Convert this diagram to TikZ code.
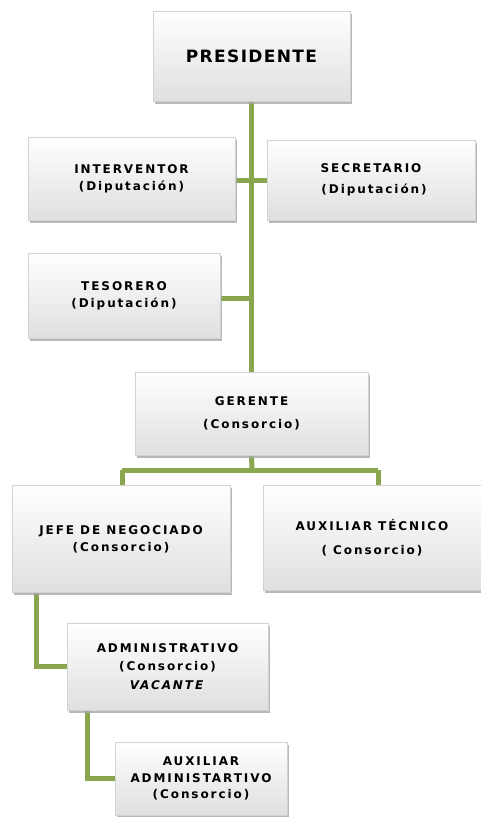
\documentclass[tikz,border=0pt]{standalone}
\usepackage{fontspec}
\setmainfont{DejaVu Sans}[LetterSpace=16]
\usetikzlibrary{shadows,backgrounds}
\definecolor{lineg}{RGB}{138,166,78}
\tikzset{
  box/.style={rectangle, draw=gray!35, line width=0.4pt, top color=white, bottom color=gray!25,
    drop shadow={shadow xshift=2pt, shadow yshift=-2.5pt, fill=gray!70, opacity=0.8},
    align=center, font=\fontsize{12pt}{17pt}\selectfont\bfseries, inner sep=0pt},
  conn/.style={draw=lineg, line width=5pt}
}
\begin{document}
\begin{tikzpicture}[x=1pt,y=-1pt]
\useasboundingbox (0,0) rectangle (481,817);
\node[box, minimum width=197pt, minimum height=90pt, font=\fontsize{17pt}{18pt}\selectfont\bfseries\addfontfeatures{LetterSpace=8}] (pres) at (251.5,56) {PRESIDENTE};
\node[box, minimum width=207pt, minimum height=83pt] (interv) at (131.5,178.5) {INTERVENTOR\\(Diputación)};
\node[box, minimum width=208pt, minimum height=80pt, font=\fontsize{12pt}{21pt}\selectfont\bfseries] (secr) at (371,180) {SECRETARIO\\\ (Diputación)};
\node[box, minimum width=192pt, minimum height=85pt] (tes) at (124,295.5) {TESORERO\\(Diputación)};
\node[box, minimum width=233pt, minimum height=83pt, font=\fontsize{12pt}{23pt}\selectfont\bfseries] (ger) at (251.5,413.5) {GERENTE\\(Consorcio)};
\node[box, minimum width=218pt, minimum height=107pt, text depth=-8pt] (jefe) at (121,538.5) {JEFE DE NEGOCIADO\\(Consorcio)};
\node[box, minimum width=218pt, minimum height=105pt, font=\fontsize{12pt}{24pt}\selectfont\bfseries] (auxt) at (372,537.5) {AUXILIAR TÉCNICO\\( Consorcio)};
\node[box, minimum width=201pt, minimum height=87pt, font=\fontsize{12pt}{18.5pt}\selectfont\bfseries] (admin) at (167.5,666.5) {ADMINISTRATIVO\\(Consorcio)\\\textit{VACANTE}};
\node[box, minimum width=172pt, minimum height=73pt, font=\fontsize{12pt}{16.5pt}\selectfont\bfseries] (auxa) at (201,778.5) {AUXILIAR\\ADMINISTARTIVO\\(Consorcio)};
\coordinate (bar) at (252,470);
\coordinate (barL) at (122,470);
\coordinate (barR) at (378,470);
\begin{scope}[on background layer]
\draw[conn] (pres.south) -- (ger.north);
\draw[conn] (interv.east |- 0,180) -- (secr.west |- 0,180);
\draw[conn] (tes.east |- 0,298) -- (252,298);
\draw[conn] (ger.south) -- (bar);
\draw[conn] (barL) -- (barR);
\draw[conn] (barL) -- (barL |- jefe.north);
\draw[conn] (barR) -- (barR |- auxt.north);
\draw[conn] ([xshift=25pt]jefe.south west) |- (admin.west);
\draw[conn] ([xshift=21pt]admin.south west) |- (auxa.west);
\end{scope}
\end{tikzpicture}
\end{document}
